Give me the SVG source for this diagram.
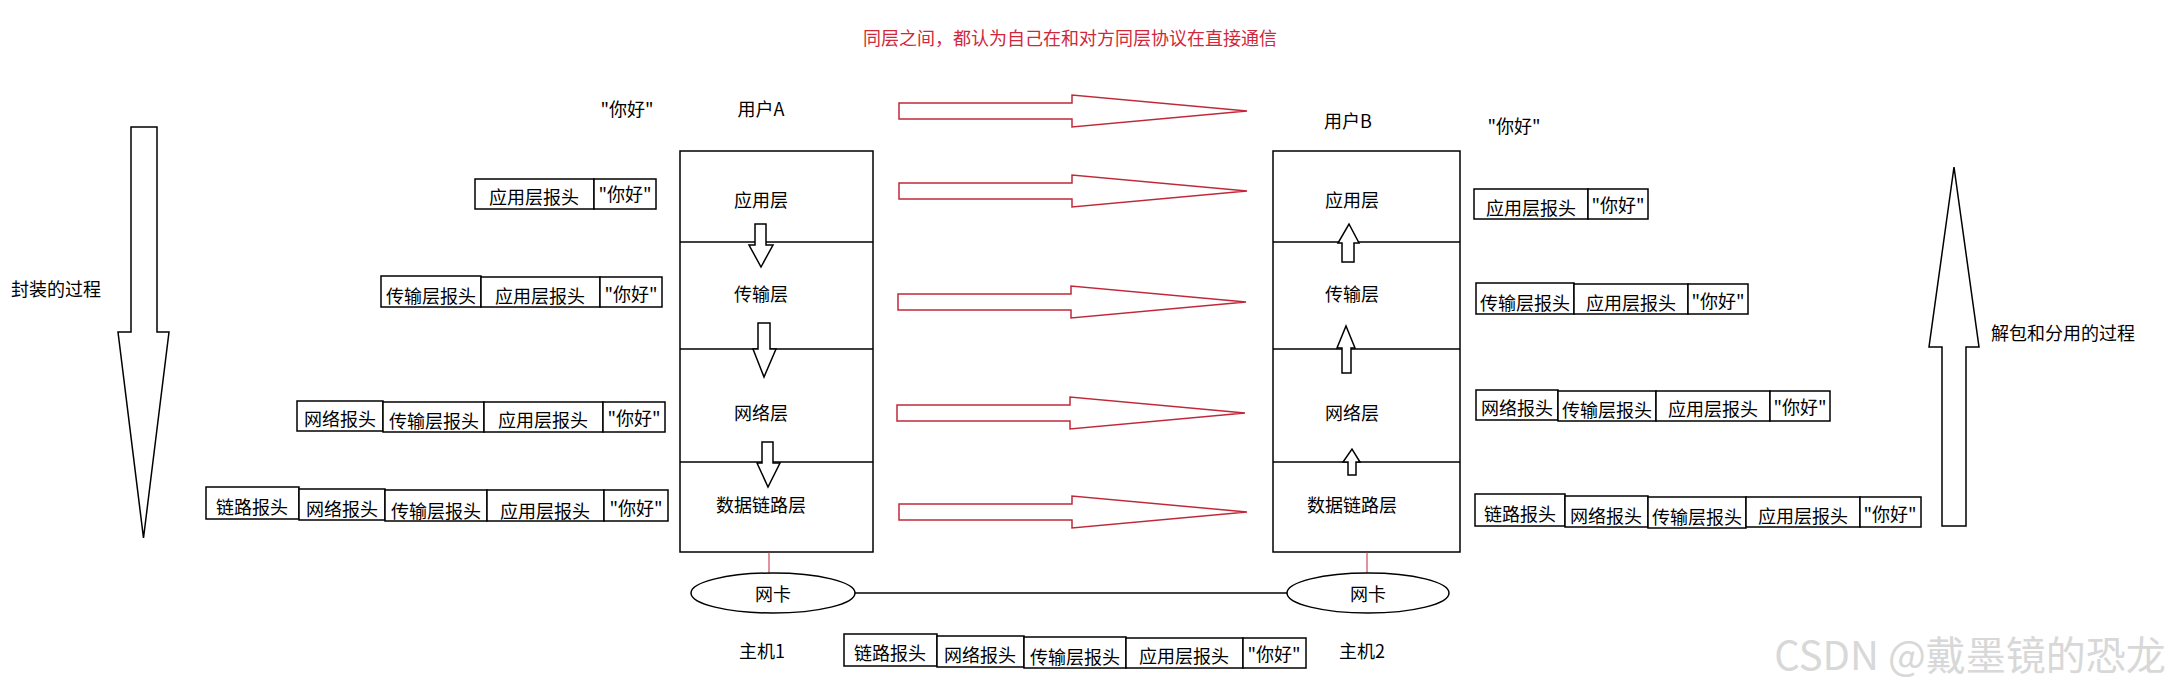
<svg xmlns="http://www.w3.org/2000/svg" width="2183" height="689" viewBox="0 0 2183 689">
<style>
text{font-family:"Noto Sans CJK SC","Liberation Sans",sans-serif;font-size:18px;fill:#000;text-anchor:middle;dominant-baseline:central}
.b{fill:#fff;stroke:#000;stroke-width:1.5}
.r{fill:#fff;stroke:#c0283a;stroke-width:1.5}
.rl{stroke:#c0283a;stroke-width:1}
.t{fill:#d0283a}
</style>
<rect width="2183" height="689" fill="#fff"/>
<text class="t" x="1070" y="37">同层之间，都认为自己在和对方同层协议在直接通信</text>
<g id="encap">
<polygon class="b" points="131,127 157,127 157,332 169,332 143.5,538 118,332 131,332"/>
<text x="56" y="288">封装的过程</text>
</g>
<g id="decap">
<polygon class="b" points="1942,526 1966,526 1966,347 1979,347 1954,167 1929,347 1942,347"/>
<text x="2063" y="332">解包和分用的过程</text>
</g>
<g id="hostA">
<text x="627" y="108">"你好"</text>
<text x="761" y="108">用户A</text>
<rect class="b" x="680" y="151" width="193" height="401"/>
<line x1="680" y1="242" x2="873" y2="242" stroke="#000" stroke-width="1.5"/>
<line x1="680" y1="349" x2="873" y2="349" stroke="#000" stroke-width="1.5"/>
<line x1="680" y1="462" x2="873" y2="462" stroke="#000" stroke-width="1.5"/>
<text x="761" y="199">应用层</text>
<text x="761" y="293">传输层</text>
<text x="761" y="412">网络层</text>
<text x="761" y="504">数据链路层</text>
<polygon class="b" points="755,224 766,224 766,245 773,245 761,267 749,245 755,245"/>
<polygon class="b" points="758,323 770,323 770,349 776,349 764,377 753,349 758,349"/>
<polygon class="b" points="762,442 773,442 773,463 780,463 768,487 757,463 762,463"/>
<line class="rl" x1="769" y1="552" x2="769" y2="574"/>
<ellipse class="b" cx="773" cy="593" rx="82" ry="20"/>
<text x="773" y="593">网卡</text>
<text x="762" y="650">主机1</text>
</g>
<g id="hostB">
<text x="1348" y="120">用户B</text>
<text x="1514" y="125">"你好"</text>
<rect class="b" x="1273" y="151" width="187" height="401"/>
<line x1="1273" y1="242" x2="1460" y2="242" stroke="#000" stroke-width="1.5"/>
<line x1="1273" y1="349" x2="1460" y2="349" stroke="#000" stroke-width="1.5"/>
<line x1="1273" y1="462" x2="1460" y2="462" stroke="#000" stroke-width="1.5"/>
<text x="1352" y="199">应用层</text>
<text x="1352" y="293">传输层</text>
<text x="1352" y="412">网络层</text>
<text x="1352" y="504">数据链路层</text>
<polygon class="b" points="1342,262 1354,262 1354,243 1359,243 1349,224 1338,243 1342,243"/>
<polygon class="b" points="1342,373 1351,373 1351,348 1355,348 1346,326 1337,348 1342,348"/>
<polygon class="b" points="1348,475 1356,475 1356,462 1360,462 1352,449 1343,462 1348,462"/>
<line class="rl" x1="1367" y1="552" x2="1367" y2="577"/>
<ellipse class="b" cx="1368" cy="593" rx="81" ry="20"/>
<text x="1368" y="593">网卡</text>
<text x="1362" y="650">主机2</text>
</g>
<g id="packetsA">
<rect class="b" x="475" y="179" width="119" height="30"/><text x="534" y="196">应用层报头</text>
<rect class="b" x="594" y="179" width="62" height="30"/><text x="625" y="193">"你好"</text>
<rect class="b" x="381" y="276" width="100" height="31"/><text x="431" y="295">传输层报头</text>
<rect class="b" x="481" y="277" width="119" height="30"/><text x="540" y="295">应用层报头</text>
<rect class="b" x="600" y="277" width="62" height="30"/><text x="631" y="293">"你好"</text>
<rect class="b" x="297" y="401" width="86" height="30"/><text x="340" y="418">网络报头</text>
<rect class="b" x="383" y="402" width="101" height="30"/><text x="434" y="420">传输层报头</text>
<rect class="b" x="484" y="402" width="119" height="30"/><text x="543" y="419">应用层报头</text>
<rect class="b" x="603" y="402" width="62" height="30"/><text x="634" y="417">"你好"</text>
<rect class="b" x="206" y="487" width="93" height="32"/><text x="252" y="506">链路报头</text>
<rect class="b" x="299" y="489" width="86" height="31"/><text x="342" y="508">网络报头</text>
<rect class="b" x="385" y="490" width="102" height="31"/><text x="436" y="510">传输层报头</text>
<rect class="b" x="487" y="490" width="117" height="31"/><text x="545" y="510">应用层报头</text>
<rect class="b" x="604" y="490" width="64" height="31"/><text x="636" y="507">"你好"</text>
</g>
<g id="packetsB">
<rect class="b" x="1474" y="189" width="114" height="30"/><text x="1531" y="207">应用层报头</text>
<rect class="b" x="1588" y="189" width="60" height="30"/><text x="1618" y="204">"你好"</text>
<rect class="b" x="1476" y="283" width="98" height="31"/><text x="1525" y="302">传输层报头</text>
<rect class="b" x="1574" y="284" width="114" height="30"/><text x="1631" y="302">应用层报头</text>
<rect class="b" x="1688" y="284" width="60" height="30"/><text x="1718" y="300">"你好"</text>
<rect class="b" x="1476" y="390" width="82" height="30"/><text x="1517" y="407">网络报头</text>
<rect class="b" x="1558" y="391" width="98" height="30"/><text x="1607" y="409">传输层报头</text>
<rect class="b" x="1656" y="391" width="114" height="30"/><text x="1713" y="408">应用层报头</text>
<rect class="b" x="1770" y="391" width="60" height="30"/><text x="1800" y="406">"你好"</text>
<rect class="b" x="1475" y="494" width="90" height="32"/><text x="1520" y="513">链路报头</text>
<rect class="b" x="1565" y="496" width="83" height="31"/><text x="1606" y="515">网络报头</text>
<rect class="b" x="1648" y="497" width="98" height="31"/><text x="1697" y="516">传输层报头</text>
<rect class="b" x="1746" y="497" width="114" height="30"/><text x="1803" y="515">应用层报头</text>
<rect class="b" x="1860" y="497" width="61" height="30"/><text x="1890" y="513">"你好"</text>
</g>
<g id="packetWire">
<rect class="b" x="844" y="634" width="93" height="32"/><text x="890" y="652">链路报头</text>
<rect class="b" x="937" y="636" width="87" height="31"/><text x="980" y="654">网络报头</text>
<rect class="b" x="1024" y="637" width="102" height="31"/><text x="1075" y="656">传输层报头</text>
<rect class="b" x="1126" y="638" width="117" height="30"/><text x="1184" y="655">应用层报头</text>
<rect class="b" x="1243" y="638" width="63" height="30"/><text x="1274" y="653">"你好"</text>
</g>
<g id="connectors">
<line x1="855" y1="593" x2="1287" y2="593" stroke="#000" stroke-width="1.5"/>
<polygon class="r" points="899,103 1072,103 1072,95 1247,111 1072,127 1072,119 899,119"/>
<polygon class="r" points="899,183 1072,183 1072,175 1247,191 1072,207 1072,199 899,199"/>
<polygon class="r" points="898,294 1071,294 1071,286 1246,302 1071,318 1071,310 898,310"/>
<polygon class="r" points="897,405 1070,405 1070,397 1245,413 1070,429 1070,421 897,421"/>
<polygon class="r" points="899,504 1072,504 1072,496 1247,512 1072,528 1072,520 899,520"/>
</g>
<text x="1970" y="653" style="font-size:40px;fill:#d8d8d8">CSDN @戴墨镜的恐龙</text>
</svg>
